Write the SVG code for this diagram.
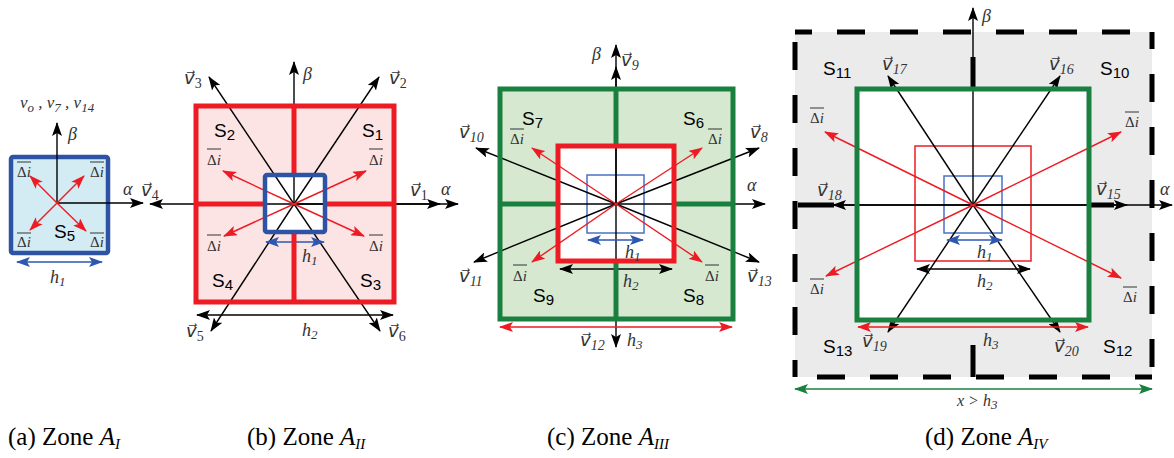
<svg xmlns="http://www.w3.org/2000/svg" width="1174" height="458" viewBox="0 0 1174 458">
<style>
.k{stroke:#000;stroke-width:1.4;fill:none}
.r{stroke:#ED1C24;stroke-width:1.4;fill:none}
.b{stroke:#2E57B0;stroke-width:1.6;fill:none}
.g{stroke:#1A8040;stroke-width:1.4;fill:none}
.ka{marker-end:url(#mk)}
.ra{marker-end:url(#mr)}
.kk{marker-start:url(#mk);marker-end:url(#mk)}
.rr{marker-start:url(#mr);marker-end:url(#mr)}
.bb{marker-start:url(#mb);marker-end:url(#mb)}
.gg{marker-start:url(#mg);marker-end:url(#mg)}
.it{font-family:"Liberation Serif","Times New Roman",serif;font-style:italic;font-size:18px;fill:#333}
.vl{font-family:"Liberation Serif","DejaVu Sans",sans-serif;font-style:italic;font-size:18px;fill:#333}
.sub{font-size:13px}
.vs{font-size:14px}
.di{font-family:"Liberation Serif","Times New Roman",serif;font-size:15px;fill:#333}
.ob{stroke:#333;stroke-width:1}
.S{font-family:"Liberation Sans",Arial,sans-serif;font-size:19px;fill:#000}
.Ss{font-size:15px}
.cap{font-family:"Liberation Serif","Times New Roman",serif;font-size:25px;fill:#000}
.thickR{stroke:#ED1C24;stroke-width:5;fill:none}
.thickG{stroke:#1A8040;stroke-width:5;fill:none}
.thickB{stroke:#2E53A4;stroke-width:4.5;fill:none}
.dash{stroke:#000;stroke-width:5;fill:none}
</style>
<defs>
<marker id="mk" viewBox="0 0 14 10" refX="13" refY="5" markerWidth="14" markerHeight="10" markerUnits="userSpaceOnUse" orient="auto-start-reverse"><path d="M0,0 L14,5 L0,10 L3,5z" fill="#000"/></marker>
<marker id="mr" viewBox="0 0 14 10" refX="13" refY="5" markerWidth="14" markerHeight="10" markerUnits="userSpaceOnUse" orient="auto-start-reverse"><path d="M0,0 L14,5 L0,10 L3,5z" fill="#ED1C24"/></marker>
<marker id="mb" viewBox="0 0 14 10" refX="13" refY="5" markerWidth="14" markerHeight="10" markerUnits="userSpaceOnUse" orient="auto-start-reverse"><path d="M0,0 L14,5 L0,10 L3,5z" fill="#2E57B0"/></marker>
<marker id="mg" viewBox="0 0 14 10" refX="13" refY="5" markerWidth="14" markerHeight="10" markerUnits="userSpaceOnUse" orient="auto-start-reverse"><path d="M0,0 L14,5 L0,10 L3,5z" fill="#1A8040"/></marker>
</defs>

<g id="zoneA1">
  <rect x="11" y="157" width="97" height="96" rx="2" fill="#D3ECF4"/>
  <rect x="11" y="157" width="97" height="96" rx="2" class="thickB"/>
  <g id="a-labels">
    <text class="it" x="20" y="108" style="font-size:17px">v<tspan class="sub" dy="4">o</tspan><tspan dy="-4"> , v</tspan><tspan class="sub" dy="4">7</tspan><tspan dy="-4"> , v</tspan><tspan class="sub" dy="4">14</tspan></text>
    <text class="it" x="68" y="140">β</text>
    <text class="it" x="123" y="195">α</text>
    <text class="S" x="54" y="238">S<tspan class="Ss" dy="3">5</tspan></text>
    <text class="di" x="17" y="177">Δ<tspan font-style="italic">i</tspan></text>
    <line class="ob" x1="17" y1="162" x2="31" y2="162"/>
    <text class="di" x="90" y="177">Δ<tspan font-style="italic">i</tspan></text>
    <line class="ob" x1="90" y1="162" x2="104" y2="162"/>
    <text class="di" x="17" y="247">Δ<tspan font-style="italic">i</tspan></text>
    <line class="ob" x1="17" y1="233" x2="31" y2="233"/>
    <text class="di" x="90" y="247">Δ<tspan font-style="italic">i</tspan></text>
    <line class="ob" x1="90" y1="233" x2="104" y2="233"/>
    <text class="it" x="50" y="283">h<tspan class="sub" dy="3">1</tspan></text>
  </g>
</g>

<g id="zoneA2">
  <rect x="196" y="106" width="198" height="196" fill="#FCE4E5"/>
  <rect x="265" y="175" width="60" height="57" fill="#fff"/>
</g>

<g id="zoneA3">
  <rect x="500" y="89" width="233" height="230" fill="#D6E8CF"/>
  <rect x="558" y="146" width="116" height="115" fill="#fff"/>
  <rect x="587" y="175" width="57" height="58" fill="none" stroke="#4A72C4" stroke-width="1.5"/>
</g>

<g id="zoneA4">
  <rect x="795" y="32" width="357" height="345" fill="#EBEBEB"/>
  <rect x="857" y="89" width="232" height="231" fill="#fff"/>
  <rect x="915" y="146" width="116" height="115" fill="none" stroke="#ED1C24" stroke-width="1.5"/>
  <rect x="944" y="176" width="58" height="57" fill="none" stroke="#4A72C4" stroke-width="1.5"/>
</g>

<g id="connectors">
  <line class="k ka" x1="57" y1="203" x2="57" y2="123"/>
  <line class="k ka" x1="57" y1="203" x2="143" y2="203"/>
  <line class="r ra" x1="57" y1="203" x2="30" y2="176"/>
  <line class="r ra" x1="57" y1="203" x2="84" y2="176"/>
  <line class="r ra" x1="57" y1="203" x2="30" y2="230"/>
  <line class="r ra" x1="57" y1="203" x2="86" y2="231"/>
  <line class="b bb" x1="17" y1="262" x2="102" y2="262"/>
  <line class="k ka" x1="294" y1="204" x2="294" y2="62"/>
  <line class="k ka" x1="294" y1="204" x2="458" y2="204"/>
  <line class="k ka" x1="294" y1="204" x2="440" y2="204"/>
  <line class="k ka" x1="294" y1="204" x2="150" y2="204"/>
  <line class="k ka" x1="294" y1="204" x2="209" y2="77"/>
  <line class="k ka" x1="294" y1="204" x2="379" y2="77"/>
  <line class="k ka" x1="294" y1="204" x2="211" y2="331"/>
  <line class="k ka" x1="294" y1="204" x2="380" y2="331"/>
  <line class="r ra" x1="294" y1="204" x2="223" y2="171"/>
  <line class="r ra" x1="294" y1="204" x2="366" y2="171"/>
  <line class="r ra" x1="294" y1="204" x2="224" y2="236"/>
  <line class="r ra" x1="294" y1="204" x2="364" y2="236"/>
  <line class="b bb" x1="266" y1="242" x2="324" y2="242"/>
  <line class="k kk" x1="197" y1="315" x2="393" y2="315"/>
  <line class="k ka" x1="616" y1="204" x2="616" y2="45"/>
  <line class="k ka" x1="616" y1="204" x2="616" y2="67"/>
  <line class="k ka" x1="616" y1="204" x2="616" y2="347"/>
  <line class="k" x1="500" y1="204" x2="616" y2="204"/>
  <line class="k ka" x1="616" y1="204" x2="765" y2="204"/>
  <line class="k ka" x1="616" y1="204" x2="476" y2="148"/>
  <line class="k ka" x1="616" y1="204" x2="759" y2="148"/>
  <line class="k ka" x1="616" y1="204" x2="474" y2="262"/>
  <line class="k ka" x1="616" y1="204" x2="759" y2="262"/>
  <line class="r ra" x1="616" y1="204" x2="532" y2="148"/>
  <line class="r ra" x1="616" y1="204" x2="702" y2="148"/>
  <line class="r ra" x1="616" y1="204" x2="532" y2="262"/>
  <line class="r ra" x1="616" y1="204" x2="702" y2="262"/>
  <line class="b bb" x1="588" y1="240" x2="643" y2="240"/>
  <line class="k kk" x1="560" y1="269" x2="672" y2="269"/>
  <line class="r rr" x1="500" y1="327" x2="732" y2="327"/>
  <line class="k ka" x1="973" y1="205" x2="973" y2="8"/>
  <line class="k ka" x1="798" y1="205" x2="1172" y2="205"/>
  <line class="k ka" x1="973" y1="205" x2="1127" y2="205"/>
  <line class="k ka" x1="973" y1="205" x2="833" y2="205"/>
  <line class="k ka" x1="973" y1="205" x2="888" y2="76"/>
  <line class="k ka" x1="973" y1="205" x2="1060" y2="76"/>
  <line class="k ka" x1="973" y1="205" x2="888" y2="332"/>
  <line class="k ka" x1="973" y1="205" x2="1060" y2="332"/>
  <line class="r ra" x1="973" y1="205" x2="825" y2="132"/>
  <line class="r ra" x1="973" y1="205" x2="1121" y2="132"/>
  <line class="r ra" x1="973" y1="205" x2="826" y2="276"/>
  <line class="r ra" x1="973" y1="205" x2="1121" y2="278"/>
  <line class="b bb" x1="947" y1="240" x2="1002" y2="240"/>
  <line class="k kk" x1="917" y1="269" x2="1030" y2="269"/>
  <line class="r rr" x1="858" y1="327" x2="1088" y2="327"/>
  <line class="g gg" x1="795" y1="389" x2="1152" y2="389"/>
</g>

<g id="zoneA2-borders">
  <rect x="196" y="106" width="198" height="196" class="thickR"/>
  <path class="thickR" d="M196,204H265M325,204H394M294,106V175M294,232V302"/>
  <rect x="265" y="175" width="60" height="57" rx="2" class="thickB"/>
</g>
<g id="zoneA3-borders">
  <path class="thickG" d="M616,89V146M616,261V319M500,204H558M674,204H733"/>
  <rect x="500" y="89" width="233" height="230" class="thickG"/>
  <rect x="558" y="146" width="116" height="115" class="thickR"/>
</g>
<g id="zoneA4-borders">
  <g class="dash" stroke-dasharray="28 25" stroke-dashoffset="11">
    <line x1="795" y1="32" x2="1152" y2="32"/>
    <line x1="1152" y1="32" x2="1152" y2="377"/>
    <line x1="1152" y1="377" x2="795" y2="377"/>
    <line x1="795" y1="377" x2="795" y2="32"/>
  </g>
  <path class="dash" d="M973,57V89M973,345V377M798,205H834M1089,205H1114"/>
  <rect x="857" y="89" width="232" height="231" class="thickG"/>
</g>

<g id="b-labels">
  <text class="it" x="303" y="80">β</text>
  <text class="it" x="441" y="195">α</text>
  <text class="vl" x="184" y="84">v⃗<tspan class="vs" dy="4" font-style="normal">3</tspan></text>
  <text class="vl" x="389" y="84">v⃗<tspan class="vs" dy="4" font-style="normal">2</tspan></text>
  <text class="vl" x="141" y="196">v⃗<tspan class="vs" dy="4" font-style="normal">4</tspan></text>
  <text class="vl" x="410" y="196">v⃗<tspan class="vs" dy="4" font-style="normal">1</tspan></text>
  <text class="vl" x="186" y="337">v⃗<tspan class="vs" dy="4" font-style="normal">5</tspan></text>
  <text class="vl" x="388" y="337">v⃗<tspan class="vs" dy="4" font-style="normal">6</tspan></text>
  <text class="S" x="214" y="137">S<tspan class="Ss" dy="3">2</tspan></text>
  <text class="S" x="362" y="137">S<tspan class="Ss" dy="3">1</tspan></text>
  <text class="S" x="212" y="287">S<tspan class="Ss" dy="3">4</tspan></text>
  <text class="S" x="360" y="287">S<tspan class="Ss" dy="3">3</tspan></text>
  <text class="di" x="207" y="165">Δ<tspan font-style="italic">i</tspan></text>
  <line class="ob" x1="207" y1="149" x2="221" y2="149"/>
  <text class="di" x="369" y="165">Δ<tspan font-style="italic">i</tspan></text>
  <line class="ob" x1="369" y1="149" x2="383" y2="149"/>
  <text class="di" x="207" y="251">Δ<tspan font-style="italic">i</tspan></text>
  <line class="ob" x1="207" y1="235" x2="221" y2="235"/>
  <text class="di" x="369" y="251">Δ<tspan font-style="italic">i</tspan></text>
  <line class="ob" x1="369" y1="235" x2="383" y2="235"/>
  <text class="it" x="302" y="262">h<tspan class="sub" dy="3">1</tspan></text>
  <text class="it" x="302" y="336">h<tspan class="sub" dy="3">2</tspan></text>
</g>

<g id="c-labels">
  <text class="it" x="592" y="60">β</text>
  <text class="vl" x="621" y="66">v⃗<tspan class="vs" dy="4">9</tspan></text>
  <text class="it" x="747" y="191">α</text>
  <text class="vl" x="459" y="138">v⃗<tspan class="vs" dy="4">10</tspan></text>
  <text class="vl" x="750" y="138">v⃗<tspan class="vs" dy="4">8</tspan></text>
  <text class="vl" x="459" y="282">v⃗<tspan class="vs" dy="4">11</tspan></text>
  <text class="vl" x="747" y="282">v⃗<tspan class="vs" dy="4">13</tspan></text>
  <text class="vl" x="580" y="346">v⃗<tspan class="vs" dy="4">12</tspan></text>
  <text class="S" x="522" y="125">S<tspan class="Ss" dy="3">7</tspan></text>
  <text class="S" x="683" y="125">S<tspan class="Ss" dy="3">6</tspan></text>
  <text class="S" x="533" y="302">S<tspan class="Ss" dy="3">9</tspan></text>
  <text class="S" x="683" y="302">S<tspan class="Ss" dy="3">8</tspan></text>
  <text class="di" x="510" y="144">Δ<tspan font-style="italic">i</tspan></text>
  <line class="ob" x1="510" y1="129" x2="524" y2="129"/>
  <text class="di" x="708" y="144">Δ<tspan font-style="italic">i</tspan></text>
  <line class="ob" x1="708" y1="129" x2="722" y2="129"/>
  <text class="di" x="513" y="281">Δ<tspan font-style="italic">i</tspan></text>
  <line class="ob" x1="513" y1="265" x2="527" y2="265"/>
  <text class="di" x="705" y="281">Δ<tspan font-style="italic">i</tspan></text>
  <line class="ob" x1="705" y1="265" x2="719" y2="265"/>
  <text class="it" x="625" y="258">h<tspan class="sub" dy="3">1</tspan></text>
  <text class="it" x="623" y="287">h<tspan class="sub" dy="3">2</tspan></text>
  <text class="it" x="627" y="346">h<tspan class="sub" dy="3">3</tspan></text>
</g>

<g id="d-labels">
  <text class="it" x="982" y="22">β</text>
  <text class="it" x="1160" y="195">α</text>
  <text class="vl" x="882" y="70">v⃗<tspan class="vs" dy="4">17</tspan></text>
  <text class="vl" x="1049" y="70">v⃗<tspan class="vs" dy="4">16</tspan></text>
  <text class="vl" x="817" y="196">v⃗<tspan class="vs" dy="4">18</tspan></text>
  <text class="vl" x="1096" y="195">v⃗<tspan class="vs" dy="4">15</tspan></text>
  <text class="vl" x="862" y="347">v⃗<tspan class="vs" dy="4">19</tspan></text>
  <text class="vl" x="1054" y="352">v⃗<tspan class="vs" dy="4">20</tspan></text>
  <text class="S" x="823" y="75">S<tspan class="Ss" dy="3">11</tspan></text>
  <text class="S" x="1100" y="75">S<tspan class="Ss" dy="3">10</tspan></text>
  <text class="S" x="823" y="353">S<tspan class="Ss" dy="3">13</tspan></text>
  <text class="S" x="1103" y="353">S<tspan class="Ss" dy="3">12</tspan></text>
  <text class="di" x="810" y="123">Δ<tspan font-style="italic">i</tspan></text>
  <line class="ob" x1="810" y1="108" x2="824" y2="108"/>
  <text class="di" x="1125" y="127">Δ<tspan font-style="italic">i</tspan></text>
  <line class="ob" x1="1125" y1="112" x2="1139" y2="112"/>
  <text class="di" x="810" y="294">Δ<tspan font-style="italic">i</tspan></text>
  <line class="ob" x1="810" y1="279" x2="824" y2="279"/>
  <text class="di" x="1123" y="302">Δ<tspan font-style="italic">i</tspan></text>
  <line class="ob" x1="1123" y1="287" x2="1137" y2="287"/>
  <text class="it" x="977" y="258">h<tspan class="sub" dy="3">1</tspan></text>
  <text class="it" x="977" y="287">h<tspan class="sub" dy="3">2</tspan></text>
  <text class="it" x="983" y="346">h<tspan class="sub" dy="3">3</tspan></text>
  <text class="it" x="957" y="406" style="font-size:16px">x &gt; h<tspan class="sub" dy="3">3</tspan></text>
</g>

<g id="captions">
  <text class="cap" x="8" y="445">(a) Zone <tspan font-style="italic">A</tspan><tspan font-style="italic" font-size="15" dy="4">I</tspan></text>
  <text class="cap" x="247" y="445">(b) Zone <tspan font-style="italic">A</tspan><tspan font-style="italic" font-size="15" dy="4">II</tspan></text>
  <text class="cap" x="547" y="445">(c) Zone <tspan font-style="italic">A</tspan><tspan font-style="italic" font-size="15" dy="4">III</tspan></text>
  <text class="cap" x="925" y="445">(d) Zone <tspan font-style="italic">A</tspan><tspan font-style="italic" font-size="15" dy="4">IV</tspan></text>
</g>
</svg>
